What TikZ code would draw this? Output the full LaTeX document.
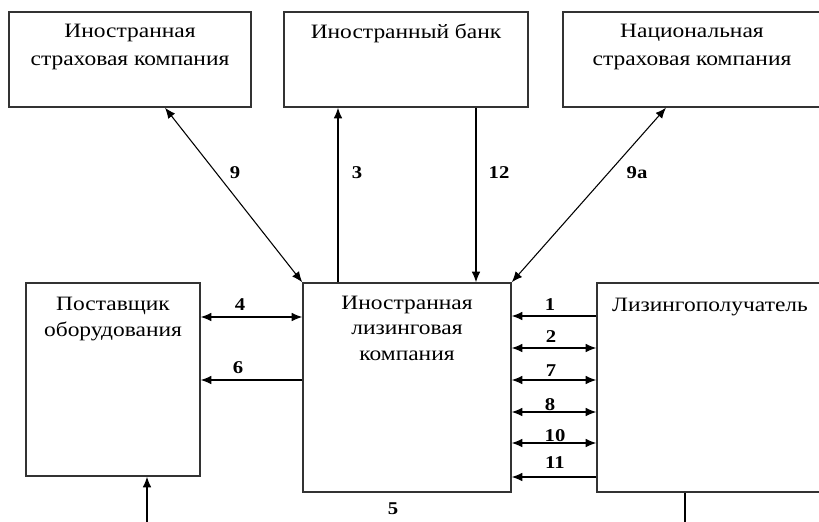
\documentclass[tikz,border=0pt]{standalone}
\usepackage{fontspec}
\setmainfont[FakeStretch=1.15]{Liberation Serif}
\usetikzlibrary{arrows.meta,fit}
\begin{document}
\begin{tikzpicture}[x=0.75pt,y=-0.75pt,
  box/.style={draw=black!80,line width=1.1pt,inner sep=0pt,fill=none},
  ttop/.style={anchor=base,align=center,font=\fontsize{15.3}{20.3}\selectfont,inner sep=0pt},
  tlow/.style={anchor=base,align=center,font=\fontsize{15.3}{18.8}\selectfont,inner sep=0pt},
  lbl/.style={font=\fontsize{13.5}{15}\selectfont\bfseries,inner sep=0pt},
  arr/.style={line width=0.8pt,-{Latex[length=8pt,width=6.5pt]}},
  darr/.style={line width=0.8pt,{Latex[length=8pt,width=6.5pt]}-{Latex[length=8pt,width=6.5pt]}},
  ln/.style={line width=0.8pt}]
\useasboundingbox (0,0) rectangle (819,522);
\clip (0,0) rectangle (819,522);
% boxes
\node[box,fit={(9,12) (251,107)}] (A) {};
\node[box,fit={(284,12) (528,107)}] (B) {};
\node[box,fit={(563,12) (822,107)}] (C) {};
\node[box,fit={(303,283) (511,492)}] (M) {};
\node[box,fit={(26,283) (200,476)}] (L) {};
\node[box,fit={(597,283) (824,492)}] (R) {};
% texts (anchor base = baseline of last line)
\node[ttop] (tA) at (130,65) {Иностранная\\страховая компания};
\node[ttop] (tB) at (406,38) {Иностранный банк};
\node[ttop] (tC) at (692,65) {Национальная\\страховая компания};
\node[tlow] (tM) at (407,360) {Иностранная\\лизинговая\\компания};
\node[tlow] (tL) at (113,336) {Поставщик\\оборудования};
\node[tlow] (tR) at (710,311) {Лизингополучатель};
% helper coordinates
\coordinate (c9) at (165,0);
\coordinate (c3) at (338,0);
\coordinate (c12) at (476,0);
\coordinate (c9a) at (666,0);
\coordinate (y4) at (0,317);
\coordinate (y6) at (0,380);
\coordinate (y1) at (0,316);
\coordinate (y2) at (0,348);
\coordinate (y7) at (0,380);
\coordinate (y8) at (0,412);
\coordinate (y10) at (0,443);
\coordinate (y11) at (0,477);
\coordinate (bl) at (147,530);
\coordinate (br) at (685,530);
% connectors
\draw[darr] (A.south -| c9) -- (M.north west);
\draw[arr] (M.north -| c3) -- (B.south -| c3);
\draw[arr] (B.south -| c12) -- (M.north -| c12);
\draw[darr] (C.south -| c9a) -- (M.north east);
\draw[darr] (L.east |- y4) -- (M.west |- y4);
\draw[arr] (M.west |- y6) -- (L.east |- y6);
\draw[arr] (R.west |- y1) -- (M.east |- y1);
\draw[darr] (M.east |- y2) -- (R.west |- y2);
\draw[darr] (M.east |- y7) -- (R.west |- y7);
\draw[darr] (M.east |- y8) -- (R.west |- y8);
\draw[darr] (M.east |- y10) -- (R.west |- y10);
\draw[arr] (R.west |- y11) -- (M.east |- y11);
\draw[arr] (bl) -- (L.south -| bl);
\draw[ln] (R.south -| br) -- (br);
% labels
\node[lbl] (l9) at (235,173) {9};
\node[lbl] (l3) at (357,173) {3};
\node[lbl] (l12) at (499,173) {12};
\node[lbl] (l9a) at (637,173) {9а};
\node[lbl] (l4) at (240,305) {4};
\node[lbl] (l6) at (238,368) {6};
\node[lbl] (l1) at (550,305) {1};
\node[lbl] (l2) at (551,337) {2};
\node[lbl] (l7) at (551,371) {7};
\node[lbl] (l8) at (550,405) {8};
\node[lbl] (l10) at (555,436) {10};
\node[lbl] (l11) at (555,463) {11};
\node[lbl] (l5) at (393,509) {5};
\end{tikzpicture}
\end{document}
